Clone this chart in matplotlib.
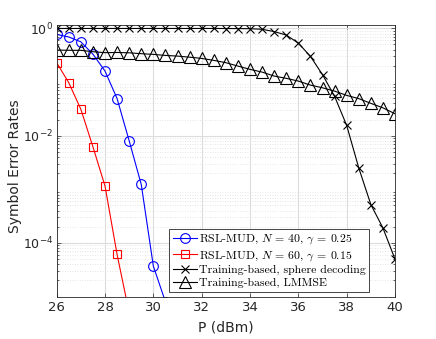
import numpy as np
import matplotlib
matplotlib.use('Agg')
import matplotlib.pyplot as plt
from matplotlib.ticker import LogLocator, NullFormatter

plt.rcParams['mathtext.fontset'] = 'cm'

# RSL-MUD, N = 40, gamma = 0.25
p_n40 = [26, 26.5, 27, 27.5, 28, 28.5, 29, 29.5, 30, 30.5]
ser_n40 = [0.77, 0.69, 0.56, 0.33, 0.16, 0.049, 0.0080, 1.23e-3, 3.7e-5, 8e-6]

# RSL-MUD, N = 60, gamma = 0.15
p_n60 = [26, 26.5, 27, 27.5, 28, 28.5, 29]
ser_n60 = [0.229, 0.097, 0.031, 6.2e-3, 1.15e-3, 6.1e-5, 5e-6]

# training based, sphere decoding
p_train = [26, 26.5, 27, 27.5, 28, 28.5, 29, 29.5, 30, 30.5, 31, 31.5, 32, 32.5, 33,
           33.5, 34, 34.5, 35, 35.5, 36, 36.5, 37, 37.5, 38, 38.5, 39, 39.5, 40]
ser_sd = [0.995, 0.995, 0.995, 0.995, 0.995, 0.995, 0.995, 0.995, 0.995, 0.995,
          0.995, 0.995, 0.995, 0.995, 0.993, 0.99, 0.985, 0.96, 0.87, 0.75,
          0.53, 0.30, 0.137, 0.054, 0.0155, 2.5e-3, 5.2e-4, 1.9e-4, 5.0e-5]

# training based, LMMSE
ser_lmmse = [0.394, 0.39, 0.389, 0.367, 0.352, 0.355, 0.35, 0.337, 0.327, 0.313,
             0.304, 0.29, 0.275, 0.253, 0.229, 0.198, 0.172, 0.153, 0.129, 0.117,
             0.104, 0.0875, 0.078, 0.0676, 0.0563, 0.049, 0.040, 0.033, 0.0256]

fig = plt.figure(figsize=(4.36, 3.39), dpi=100)
ax = fig.add_axes([0.130, 0.125, 0.776, 0.801])

lw = 0.8
ax.semilogy(p_n40, ser_n40, '-o', color='b', lw=lw, ms=7, mfc='none', mew=0.8,
            label=r'RSL-MUD, $N$ = 40, $\gamma$ = 0.25')
ax.semilogy(p_n60, ser_n60, '-s', color='r', lw=lw, ms=6, mfc='none', mew=0.8,
            label=r'RSL-MUD, $N$ = 60, $\gamma$ = 0.15')
ax.semilogy(p_train, ser_sd, '-x', color='k', lw=lw, ms=6, mew=0.8,
            label='Training-based, sphere decoding')
ax.semilogy(p_train, ser_lmmse, '-^', color='k', lw=lw, ms=9, mfc='none', mew=0.8,
            label='Training-based, LMMSE')

ax.set_xlim(26, 40)
ax.set_ylim(1e-5, 1.15)
ax.set_xticks([26, 28, 30, 32, 34, 36, 38, 40])
ax.set_yticks([1e-4, 1e-2, 1e0])
ax.yaxis.set_minor_locator(LogLocator(base=10, subs=np.arange(2, 10), numticks=20))
ax.yaxis.set_minor_formatter(NullFormatter())

ax.grid(True, which='major', color='#dcdcdc', lw=0.8)
ax.grid(True, which='minor', axis='y', color='#dcdcdc', lw=0.6, ls=(0, (1, 2)))
ax.set_axisbelow(True)

for s in ax.spines.values():
    s.set_color('#262626')
    s.set_linewidth(0.6)
ax.tick_params(which='both', direction='in', top=True, right=True,
               labelsize=9.5, colors='#262626', length=3, width=0.5)
ax.tick_params(axis='y', labelsize=9, pad=2.5)
ax.tick_params(which='minor', length=1.5)

ax.set_xlabel('P (dBm)', fontsize=10, color='#262626')
ax.set_ylabel('Symbol Error Rates', fontsize=10, color='#262626')
ax.yaxis.set_label_coords(-0.102, 0.48)

leg = ax.legend(loc='lower right', bbox_to_anchor=(0.924, 0.018),
                prop={'family': 'cmr10', 'size': 8.5}, fancybox=False,
                edgecolor='#262626', framealpha=1, handlelength=2.0,
                handletextpad=0.2, borderpad=0.3, labelspacing=0.2,
                borderaxespad=0)
leg.get_frame().set_linewidth(0.6)

fig.savefig('out.png', dpi=100)
